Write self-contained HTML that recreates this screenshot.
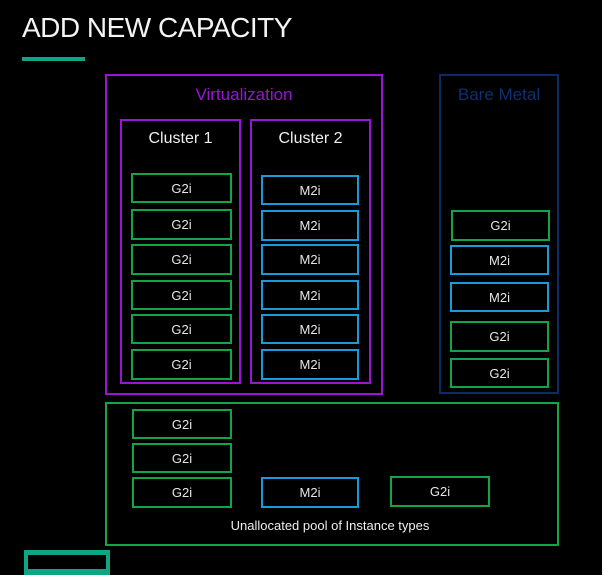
<!DOCTYPE html>
<html><head><meta charset="utf-8"><style>
html,body{margin:0;padding:0;}
body{width:605px;height:580px;background:#fff;position:relative;overflow:hidden;font-family:"Liberation Sans",sans-serif;}
#bg{position:absolute;left:0;top:0;width:602px;height:575px;background:#000;}
.b{position:absolute;box-sizing:border-box;}
.g{border:2px solid #11a548;}
.m{border:2px solid #1a9bd7;}
.p{border:2px solid #9a14d6;}
.t{color:#e6e6e6;font-size:13px;display:flex;align-items:center;justify-content:center;}
.lbl{position:absolute;text-align:center;font-size:16px;color:#eee;}
</style></head><body>
<div id="bg"></div>
<div class="lbl" style="left:22px;top:12px;font-size:28px;text-align:left;color:#f4f4f4;letter-spacing:-0.5px">ADD NEW CAPACITY</div>
<div class="b" style="left:22px;top:57px;width:63px;height:4px;background:#0ea585"></div>

<div class="b p" style="left:105px;top:74px;width:278px;height:321px"></div>
<div class="lbl" style="left:105px;top:85px;width:278px;color:#9a14d6;font-size:17px">Virtualization</div>
<div class="b p" style="left:120px;top:119px;width:121px;height:265px"></div>
<div class="lbl" style="left:120px;top:130px;width:121px">Cluster 1</div>
<div class="b p" style="left:250px;top:119px;width:121px;height:265px"></div>
<div class="lbl" style="left:250px;top:130px;width:121px">Cluster 2</div>

<div class="b g t" style="left:131px;top:173px;width:101px;height:30px">G2i</div>
<div class="b g t" style="left:131px;top:209px;width:101px;height:31px">G2i</div>
<div class="b g t" style="left:131px;top:244px;width:101px;height:31px">G2i</div>
<div class="b g t" style="left:131px;top:280px;width:101px;height:30px">G2i</div>
<div class="b g t" style="left:131px;top:314px;width:101px;height:30px">G2i</div>
<div class="b g t" style="left:131px;top:349px;width:101px;height:31px">G2i</div>

<div class="b m t" style="left:261px;top:175px;width:98px;height:30px">M2i</div>
<div class="b m t" style="left:261px;top:210px;width:98px;height:31px">M2i</div>
<div class="b m t" style="left:261px;top:244px;width:98px;height:31px">M2i</div>
<div class="b m t" style="left:261px;top:280px;width:98px;height:30px">M2i</div>
<div class="b m t" style="left:261px;top:314px;width:98px;height:30px">M2i</div>
<div class="b m t" style="left:261px;top:349px;width:98px;height:31px">M2i</div>

<div class="b" style="left:439px;top:74px;width:120px;height:320px;border:2px solid #0b2a66"></div>
<div class="lbl" style="left:439px;top:85px;width:120px;color:#0e2f70;font-size:17px">Bare Metal</div>
<div class="b g t" style="left:451px;top:210px;width:99px;height:31px">G2i</div>
<div class="b m t" style="left:450px;top:245px;width:99px;height:30px">M2i</div>
<div class="b m t" style="left:450px;top:282px;width:99px;height:30px">M2i</div>
<div class="b g t" style="left:450px;top:321px;width:99px;height:31px">G2i</div>
<div class="b g t" style="left:450px;top:358px;width:99px;height:30px">G2i</div>

<div class="b g" style="left:105px;top:402px;width:454px;height:144px"></div>
<div class="b g t" style="left:132px;top:409px;width:100px;height:30px">G2i</div>
<div class="b g t" style="left:132px;top:443px;width:100px;height:30px">G2i</div>
<div class="b g t" style="left:132px;top:477px;width:100px;height:31px">G2i</div>
<div class="b m t" style="left:261px;top:477px;width:98px;height:31px">M2i</div>
<div class="b g t" style="left:390px;top:476px;width:100px;height:31px">G2i</div>
<div class="lbl" style="left:105px;top:518px;width:450px;font-size:13px">Unallocated pool of Instance types</div>

<div class="b" style="left:24px;top:550px;width:86px;height:25px;border:4px solid #0ea585;border-top-width:5px;border-bottom-width:6px"></div>
<div class="b" style="left:0;top:575px;width:605px;height:5px;background:#fff"></div>
</body></html>
